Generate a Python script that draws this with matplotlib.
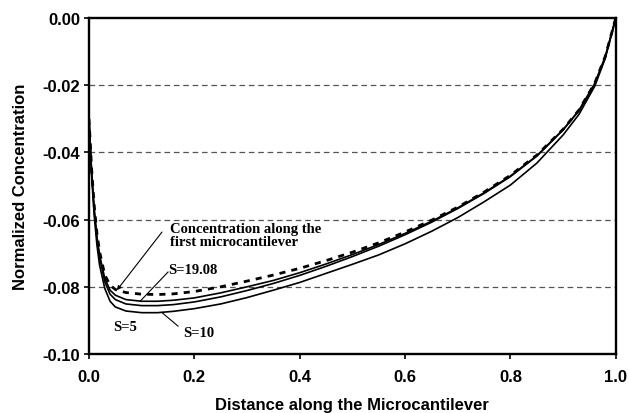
import numpy as np
import matplotlib.pyplot as plt

# distance along the microcantilever (normalized)
x = [0.0, 0.005, 0.01, 0.015, 0.02, 0.03, 0.04, 0.05, 0.07, 0.1, 0.13, 0.16,
     0.2, 0.25, 0.3, 0.35, 0.4, 0.45, 0.5, 0.55, 0.6, 0.65, 0.7, 0.75, 0.8,
     0.85, 0.9, 0.93, 0.96, 0.98, 1.0]

# normalized concentration, first microcantilever (dashed)
c_first = [-0.030, -0.045, -0.056, -0.064, -0.0695, -0.0765, -0.0795, -0.0808,
           -0.0817, -0.0822, -0.0823, -0.0821, -0.0814, -0.0800, -0.0783,
           -0.0765, -0.0745, -0.0722, -0.0697, -0.0669, -0.0637, -0.0602,
           -0.0563, -0.0518, -0.0468, -0.0408, -0.0331, -0.0274, -0.0194,
           -0.0114, 0.0]
# S = 19.08
c_s19 = [-0.030, -0.046, -0.057, -0.065, -0.0705, -0.0775, -0.0810, -0.0825,
         -0.0838, -0.0843, -0.0843, -0.0840, -0.0833, -0.0818, -0.0800,
         -0.0781, -0.0758, -0.0732, -0.0704, -0.0674, -0.0641, -0.0605,
         -0.0565, -0.0520, -0.0470, -0.0410, -0.0332, -0.0275, -0.0195,
         -0.0115, 0.0]
# S = 5
c_s5 = [-0.030, -0.046, -0.0575, -0.0655, -0.0712, -0.0785, -0.0822, -0.0838,
        -0.0851, -0.0856, -0.0856, -0.0853, -0.0845, -0.0830, -0.0811,
        -0.0790, -0.0766, -0.0739, -0.0710, -0.0679, -0.0645, -0.0608,
        -0.0567, -0.0522, -0.0472, -0.0411, -0.0333, -0.0276, -0.0196,
        -0.0116, 0.0]
# S = 10
c_s10 = [-0.030, -0.047, -0.059, -0.0675, -0.0735, -0.0805, -0.0843, -0.0860,
         -0.0872, -0.0877, -0.0877, -0.0873, -0.0865, -0.0851, -0.0832,
         -0.0810, -0.0787, -0.0760, -0.0733, -0.0705, -0.0672, -0.0635,
         -0.0594, -0.0547, -0.0497, -0.0432, -0.0348, -0.0287, -0.0203,
         -0.0120, 0.0]

xticks = [0.0, 0.2, 0.4, 0.6, 0.8, 1.0]
yticks = [0.00, -0.02, -0.04, -0.06, -0.08, -0.10]

plt.rcParams['font.family'] = ['Liberation Sans', 'DejaVu Sans']

fig = plt.figure(figsize=(6.29, 4.14), dpi=100)
ax = fig.add_axes([0.1415, 0.1425, 0.8375, 0.8115])

for g in yticks[1:-1]:
    ax.axhline(g, color='#555555', lw=0.9, ls=(0, (4.5, 3)), zorder=1)

ax.plot(x, c_s10, color='black', lw=1.2, zorder=3)
ax.plot(x, c_s5, color='black', lw=1.2, zorder=3)
ax.plot(x, c_s19, color='black', lw=1.2, zorder=3)
ax.plot(x, c_first, color='black', lw=2.0, ls=(0, (2.2, 2.2)), zorder=4)

ax.set_xlim(0, 1.0)
ax.set_ylim(-0.10, 0.0)
ax.set_xticks(xticks)
ax.set_yticks(yticks)
ax.set_xticklabels(['%.1f' % v for v in xticks], fontweight='bold', fontsize=12)
ax.set_yticklabels(['%.2f' % v for v in yticks], fontweight='bold', fontsize=12)
ax.tick_params(axis='both', direction='out', length=3.5, width=1.2, colors='black')
ax.tick_params(axis='x', pad=7)
ax.tick_params(axis='y', pad=3)
for s in ax.spines.values():
    s.set_linewidth(1.7)

ax.set_xlabel('Distance along the Microcantilever', fontweight='bold', fontsize=12, labelpad=10)
ax.set_ylabel('Normalized Concentration', fontweight='bold', fontsize=12, labelpad=10)

serif = dict(family=['Liberation Serif', 'DejaVu Serif'], fontweight='bold', fontsize=10.5)
ax.text(0.154, -0.0646, 'Concentration along the\nfirst microcantilever', ha='left',
        va='center', linespacing=0.95, **serif)
ax.annotate('', xy=(0.053, -0.081), xytext=(0.1385, -0.0637),
            arrowprops=dict(arrowstyle='-|>', color='black', lw=0.8,
                            mutation_scale=6, shrinkA=0, shrinkB=0))
ax.text(0.150, -0.0747, 'S=19.08', ha='left', va='center', **serif)
ax.plot([0.150, 0.097], [-0.0756, -0.0843], color='black', lw=0.8)
ax.text(0.0455, -0.0917, 'S=5', ha='left', va='center', **serif)
ax.text(0.178, -0.0935, 'S=10', ha='left', va='center', **serif)
ax.plot([0.169, 0.138], [-0.0917, -0.0876], color='black', lw=0.8)

fig.savefig('out.png', dpi=100)
